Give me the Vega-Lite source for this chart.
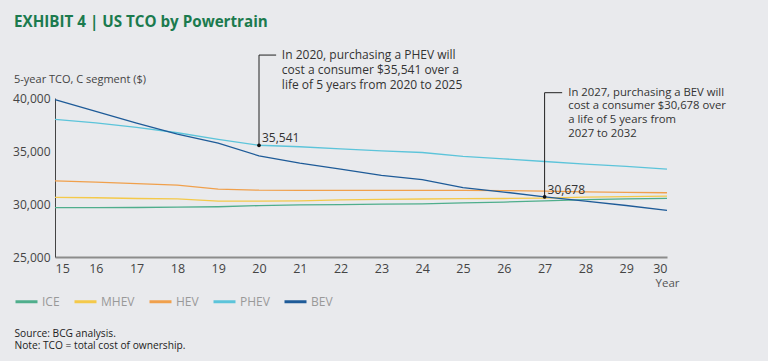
{
  "$schema": "https://vega.github.io/schema/vega-lite/v6.json",
  "width": 612,
  "height": 159,
  "autosize": {"type": "none"},
  "padding": {"left": 55, "top": 98, "right": 101, "bottom": 104},
  "background": "#e9eaed",
  "config": {"view": {"stroke": null}, "font": "Open Sans"},
  "title": {
    "text": "EXHIBIT 4 | US TCO by Powertrain",
    "subtitle": "5-year TCO, C segment ($)",
    "anchor": "start",
    "frame": "group",
    "dx": -41,
    "dy": 51,
    "offset": 15,
    "font": "Open Sans",
    "fontSize": 15.2,
    "fontWeight": "bold",
    "color": "#1b7a4e",
    "subtitleFont": "Open Sans",
    "subtitleFontSize": 11,
    "subtitleColor": "#444444",
    "subtitlePadding": 44
  },
  "datasets": {
    "tco": [
      {"year": 15, "powertrain": "ICE", "tco": 29650}, {"year": 16, "powertrain": "ICE", "tco": 29650},
      {"year": 17, "powertrain": "ICE", "tco": 29670}, {"year": 18, "powertrain": "ICE", "tco": 29700},
      {"year": 19, "powertrain": "ICE", "tco": 29740}, {"year": 20, "powertrain": "ICE", "tco": 29850},
      {"year": 21, "powertrain": "ICE", "tco": 29910}, {"year": 22, "powertrain": "ICE", "tco": 29950},
      {"year": 23, "powertrain": "ICE", "tco": 29980}, {"year": 24, "powertrain": "ICE", "tco": 30020},
      {"year": 25, "powertrain": "ICE", "tco": 30100}, {"year": 26, "powertrain": "ICE", "tco": 30180},
      {"year": 27, "powertrain": "ICE", "tco": 30300}, {"year": 28, "powertrain": "ICE", "tco": 30420},
      {"year": 29, "powertrain": "ICE", "tco": 30480}, {"year": 30, "powertrain": "ICE", "tco": 30530},
      {"year": 15, "powertrain": "MHEV", "tco": 30620}, {"year": 16, "powertrain": "MHEV", "tco": 30590},
      {"year": 17, "powertrain": "MHEV", "tco": 30520}, {"year": 18, "powertrain": "MHEV", "tco": 30480},
      {"year": 19, "powertrain": "MHEV", "tco": 30280}, {"year": 20, "powertrain": "MHEV", "tco": 30280},
      {"year": 21, "powertrain": "MHEV", "tco": 30300}, {"year": 22, "powertrain": "MHEV", "tco": 30380},
      {"year": 23, "powertrain": "MHEV", "tco": 30430}, {"year": 24, "powertrain": "MHEV", "tco": 30470},
      {"year": 25, "powertrain": "MHEV", "tco": 30500}, {"year": 26, "powertrain": "MHEV", "tco": 30520},
      {"year": 27, "powertrain": "MHEV", "tco": 30560}, {"year": 28, "powertrain": "MHEV", "tco": 30650},
      {"year": 29, "powertrain": "MHEV", "tco": 30700}, {"year": 30, "powertrain": "MHEV", "tco": 30750},
      {"year": 15, "powertrain": "HEV", "tco": 32180}, {"year": 16, "powertrain": "HEV", "tco": 32060},
      {"year": 17, "powertrain": "HEV", "tco": 31930}, {"year": 18, "powertrain": "HEV", "tco": 31780},
      {"year": 19, "powertrain": "HEV", "tco": 31400}, {"year": 20, "powertrain": "HEV", "tco": 31300},
      {"year": 21, "powertrain": "HEV", "tco": 31290}, {"year": 22, "powertrain": "HEV", "tco": 31290},
      {"year": 23, "powertrain": "HEV", "tco": 31290}, {"year": 24, "powertrain": "HEV", "tco": 31290},
      {"year": 25, "powertrain": "HEV", "tco": 31280}, {"year": 26, "powertrain": "HEV", "tco": 31270},
      {"year": 27, "powertrain": "HEV", "tco": 31220}, {"year": 28, "powertrain": "HEV", "tco": 31150},
      {"year": 29, "powertrain": "HEV", "tco": 31100}, {"year": 30, "powertrain": "HEV", "tco": 31060},
      {"year": 15, "powertrain": "PHEV", "tco": 37980}, {"year": 16, "powertrain": "PHEV", "tco": 37660},
      {"year": 17, "powertrain": "PHEV", "tco": 37220}, {"year": 18, "powertrain": "PHEV", "tco": 36720},
      {"year": 19, "powertrain": "PHEV", "tco": 36090}, {"year": 20, "powertrain": "PHEV", "tco": 35541},
      {"year": 21, "powertrain": "PHEV", "tco": 35400}, {"year": 22, "powertrain": "PHEV", "tco": 35200},
      {"year": 23, "powertrain": "PHEV", "tco": 35010}, {"year": 24, "powertrain": "PHEV", "tco": 34860},
      {"year": 25, "powertrain": "PHEV", "tco": 34500}, {"year": 26, "powertrain": "PHEV", "tco": 34260},
      {"year": 27, "powertrain": "PHEV", "tco": 34010}, {"year": 28, "powertrain": "PHEV", "tco": 33760},
      {"year": 29, "powertrain": "PHEV", "tco": 33540}, {"year": 30, "powertrain": "PHEV", "tco": 33290},
      {"year": 15, "powertrain": "BEV", "tco": 39840}, {"year": 16, "powertrain": "BEV", "tco": 38730},
      {"year": 17, "powertrain": "BEV", "tco": 37630}, {"year": 18, "powertrain": "BEV", "tco": 36590},
      {"year": 19, "powertrain": "BEV", "tco": 35740}, {"year": 20, "powertrain": "BEV", "tco": 34540},
      {"year": 21, "powertrain": "BEV", "tco": 33850}, {"year": 22, "powertrain": "BEV", "tco": 33300},
      {"year": 23, "powertrain": "BEV", "tco": 32700}, {"year": 24, "powertrain": "BEV", "tco": 32300},
      {"year": 25, "powertrain": "BEV", "tco": 31540}, {"year": 26, "powertrain": "BEV", "tco": 31130},
      {"year": 27, "powertrain": "BEV", "tco": 30678}, {"year": 28, "powertrain": "BEV", "tco": 30270},
      {"year": 29, "powertrain": "BEV", "tco": 29860}, {"year": 30, "powertrain": "BEV", "tco": 29400}
    ],
    "callouts": [
      {"id": "phev", "year": 20, "value": 35541, "top": 44050, "elbow": 20.42, "textX": 20.56, "valueLabel": "35,541",
       "note": "In 2020, purchasing a PHEV will\ncost a consumer $35,541 over a\nlife of 5 years from 2020 to 2025"},
      {"id": "bev", "year": 27, "value": 30678, "top": 40500, "elbow": 27.43, "textX": 27.58, "valueLabel": "30,678",
       "note": "In 2027, purchasing a BEV will\ncost a consumer $30,678 over\na life of 5 years from\n2027 to 2032"}
    ]
  },
  "layer": [
    {
      "data": {"name": "tco"},
      "mark": {"type": "line", "strokeWidth": 1.3},
      "encoding": {
        "x": {
          "field": "year", "type": "quantitative",
          "scale": {"domain": [15, 30], "nice": false, "zero": false},
          "axis": {
            "values": [15, 16, 17, 18, 19, 20, 21, 22, 23, 24, 25, 26, 27, 28, 29, 30],
            "format": "d", "grid": false, "ticks": false,
            "domainColor": "#8c8c8c", "domainWidth": 2,
            "labelPadding": 5, "labelFontSize": 12.5, "labelColor": "#444444",
            "title": "Year", "titleX": 612, "titleY": 20, "titleAlign": "center", "titleBaseline": "top",
            "titleFontSize": 11.5, "titleFontWeight": "normal", "titleColor": "#555555"
          }
        },
        "y": {
          "field": "tco", "type": "quantitative",
          "scale": {"domain": [25000, 40000], "nice": false, "zero": false},
          "axis": {
            "values": [25000, 30000, 35000, 40000], "format": ",d", "grid": false, "ticks": false,
            "domainColor": "#444444", "domainWidth": 1,
            "labelPadding": 5, "labelFontSize": 12, "labelColor": "#444444",
            "title": ["Source: BCG analysis.", "Note: TCO = total cost of ownership."],
            "titleX": -41, "titleY": 230, "titleAngle": 0, "titleAlign": "left", "titleBaseline": "top",
            "titleFontSize": 10.2, "titleFontWeight": "normal", "titleColor": "#222222", "titleLineHeight": 12.4
          }
        },
        "color": {
          "field": "powertrain", "type": "nominal",
          "scale": {"domain": ["ICE", "MHEV", "HEV", "PHEV", "BEV"],
                    "range": ["#4fae8c", "#f4c94a", "#f0a04c", "#5cc4da", "#1e5b98"]},
          "legend": {
            "orient": "none", "legendX": -41, "legendY": 191, "direction": "horizontal", "title": null,
            "symbolType": "stroke", "symbolSize": 484, "symbolStrokeWidth": 3,
            "labelFontSize": 12, "labelColor": "#999999", "labelOffset": 3, "columnPadding": 8
          }
        }
      }
    },
    {
      "data": {"name": "callouts"},
      "mark": {"type": "rule", "color": "#222222", "strokeWidth": 1},
      "encoding": {
        "x": {"field": "year", "type": "quantitative"},
        "y": {"field": "value", "type": "quantitative"},
        "y2": {"field": "top"}
      }
    },
    {
      "data": {"name": "callouts"},
      "mark": {"type": "rule", "color": "#222222", "strokeWidth": 1},
      "encoding": {
        "x": {"field": "year", "type": "quantitative"},
        "x2": {"field": "elbow"},
        "y": {"field": "top", "type": "quantitative"}
      }
    },
    {
      "data": {"name": "callouts"},
      "mark": {"type": "circle", "size": 14, "color": "#111111", "opacity": 1},
      "encoding": {
        "x": {"field": "year", "type": "quantitative"},
        "y": {"field": "value", "type": "quantitative"}
      }
    },
    {
      "data": {"name": "callouts"},
      "mark": {"type": "text", "align": "left", "baseline": "middle", "dx": 3, "dy": -7, "fontSize": 12, "color": "#333333"},
      "encoding": {
        "x": {"field": "year", "type": "quantitative"},
        "y": {"field": "value", "type": "quantitative"},
        "text": {"field": "valueLabel"}
      }
    },
    {
      "data": {"name": "callouts"},
      "transform": [{"filter": "datum.id === 'phev'"}],
      "mark": {"type": "text", "align": "left", "baseline": "middle", "lineBreak": "\n", "lineHeight": 15, "fontSize": 12, "color": "#333333"},
      "encoding": {
        "x": {"field": "textX", "type": "quantitative"},
        "y": {"field": "top", "type": "quantitative"},
        "text": {"field": "note"}
      }
    },
    {
      "data": {"name": "callouts"},
      "transform": [{"filter": "datum.id === 'bev'"}],
      "mark": {"type": "text", "align": "left", "baseline": "middle", "lineBreak": "\n", "lineHeight": 13.8, "fontSize": 11.3, "color": "#333333"},
      "encoding": {
        "x": {"field": "textX", "type": "quantitative"},
        "y": {"field": "top", "type": "quantitative"},
        "text": {"field": "note"}
      }
    }
  ]
}
